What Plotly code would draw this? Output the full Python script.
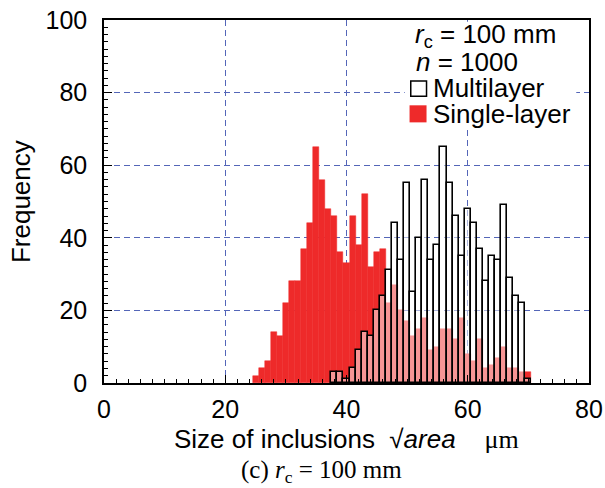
import plotly.graph_objects as go

# Inclusion size bins (sqrt(area), um), bin width 1 um, centred on integers
single_sizes = list(range(25, 71))
single_counts = [2, 4, 6, 14, 13, 22, 28, 28, 37, 44,
                 65, 56, 48, 46, 36, 33, 46, 38, 52, 32,
                 36, 37, 22, 27, 20, 17, 13, 15, 18, 9,
                 10, 15, 15, 12, 18, 8, 6, 12, 4, 5,
                 7, 10, 4, 4, 3, 3]

multi_sizes = list(range(38, 71))
multi_counts = [3, 3, 1, 4, 9, 14, 13, 20, 24, 31,
                44, 34, 55, 25, 40, 56, 34, 38, 65, 55,
                46, 35, 48, 44, 37, 28, 35, 34, 49, 29,
                24, 22, 1]

x_ticks = [0, 20, 40, 60, 80]
y_ticks = [0, 20, 40, 60, 80, 100]

RED = "#ee2a2a"
GRID = "#5466b8"
SANS = "Liberation Sans, Arial, Helvetica, sans-serif"
SERIF = "Liberation Serif, Times New Roman, serif"
FS = 25

fig = go.Figure()

fig.add_trace(go.Bar(
    x=single_sizes, y=single_counts, width=1,
    marker=dict(color=RED, line=dict(color=RED, width=0.5)),
    name="Single-layer", showlegend=False,
))
fig.add_trace(go.Bar(
    x=multi_sizes, y=multi_counts, width=1,
    marker=dict(color="rgba(255,255,255,0.5)", line=dict(color="black", width=1.6)),
    name="Multilayer", showlegend=False,
))

axis_common = dict(
    automargin=False,
    showline=True, linecolor="black", linewidth=1.5, mirror=True,
    ticks="inside", ticklen=8, tickwidth=1, tickcolor="black",
    showgrid=True, gridcolor=GRID, gridwidth=1, griddash="6px,4px",
    zeroline=False,
    tickfont=dict(family=SANS, size=FS, color="black"),
)

fig.update_xaxes(
    range=[0, 80], tickvals=x_ticks, ticktext=[str(v) for v in x_ticks],
    minor=dict(dtick=2, ticks="inside", ticklen=4, tickcolor="black", showgrid=False),
    ticklabelstandoff=3,
    **axis_common,
)
fig.update_yaxes(
    range=[0, 100], tickvals=y_ticks, ticktext=[str(v) for v in y_ticks],
    minor=dict(dtick=2, ticks="inside", ticklen=4, tickcolor="black", showgrid=False),
    ticklabelstandoff=10,
    **axis_common,
)

# White backing for the key in the upper right corner
fig.add_shape(type="rect", xref="x", yref="y", x0=49.6, x1=77.9, y0=70.4, y1=99.5,
              fillcolor="white", line=dict(width=0), layer="between")

# Key swatches
fig.add_shape(type="rect", xref="x", yref="y", x0=50.6, x1=53.2, y0=79.0, y1=83.2,
              fillcolor="white", line=dict(color="black", width=1.5), layer="above")
fig.add_shape(type="rect", xref="x", yref="y", x0=50.4, x1=53.2, y0=71.8, y1=76.5,
              fillcolor=RED, line=dict(width=0), layer="above")

key_font = dict(family=SANS, size=26, color="black")
fig.add_annotation(x=50.9, y=95.6, xref="x", yref="y", xanchor="left", yanchor="middle",
                   text="<i>r</i><sub>c</sub> = 100 mm", showarrow=False, font=key_font)
fig.add_annotation(x=51.1, y=88.4, xref="x", yref="y", xanchor="left", yanchor="middle",
                   text="<i>n</i> = 1000", showarrow=False, font=key_font)
fig.add_annotation(x=53.9, y=81.2, xref="x", yref="y", xanchor="left", yanchor="middle",
                   text="Multilayer", showarrow=False, font=key_font)
fig.add_annotation(x=54.0, y=74.2, xref="x", yref="y", xanchor="left", yanchor="middle",
                   text="Single-layer", showarrow=False, font=key_font)

# Axis titles
fig.add_annotation(x=0.5, y=-0.153, xref="paper", yref="paper", xanchor="center", yanchor="middle",
                   text="Size of inclusions  \u221a<i>area</i>    "
                        "<span style=\"font-family:Liberation Serif\">\u03bcm</span>",
                   showarrow=False, font=dict(family=SANS, size=26, color="black"))
fig.add_annotation(x=-0.172, y=0.5, xref="paper", yref="paper", xanchor="center", yanchor="middle",
                   text="Frequency", textangle=-90,
                   showarrow=False, font=dict(family=SANS, size=26, color="black"))

# Panel caption
fig.add_annotation(x=0.448, y=-0.243, xref="paper", yref="paper", xanchor="center", yanchor="middle",
                   text="(c) <i>r</i><sub>c</sub> = 100 mm",
                   showarrow=False, font=dict(family=SERIF, size=25, color="black"))

fig.update_layout(
    width=605, height=488,
    margin=dict(l=104, r=16, t=20, b=105, autoexpand=False),
    paper_bgcolor="white", plot_bgcolor="white",
    barmode="overlay", bargap=0,
    showlegend=False,
)

fig.write_html("out.html")
